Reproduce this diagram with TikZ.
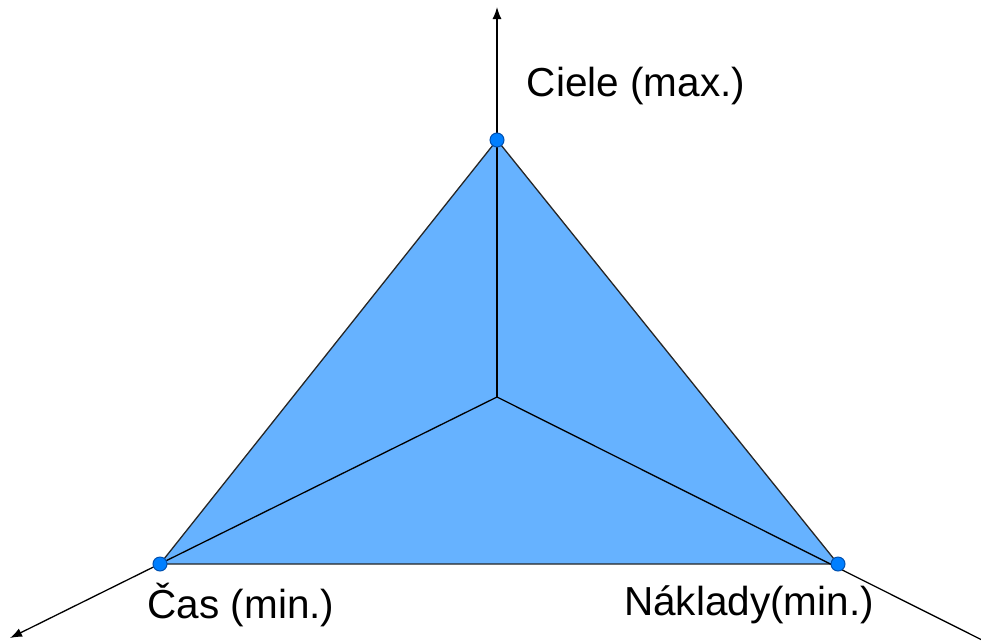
\documentclass[tikz,border=0pt]{standalone}
\usepackage{fontspec}
\setmainfont{Liberation Sans}
\usetikzlibrary{positioning, arrows.meta}
\definecolor{areablue}{HTML}{66B2FF}
\definecolor{dotblue}{HTML}{007FFF}
\definecolor{dotedge}{HTML}{0050B0}

\begin{document}
\begin{tikzpicture}[x=1pt, y=-1pt, line width=1.3pt,
	vertex/.style={circle, draw=dotedge, fill=dotblue, line width=1pt, inner sep=0pt, minimum size=14pt},
	axis/.style={-{Latex[length=12pt, width=9pt]}},
	axislabel/.style={font=\fontsize{40.5}{48}\selectfont, inner sep=0pt}]
		\useasboundingbox (0, 0) rectangle (981, 640);
		\coordinate (center) at (497, 397);
		\coordinate (top_end) at (497, 7);
		\coordinate (left_end) at (10, 638);
		\coordinate (right_end) at (996, 647);
		\fill[areablue] (497, 140) -- (160, 564) -- (838, 564) -- cycle;
		\draw[black!85] (497, 140) -- (160, 564) -- (838, 564) -- cycle;
		\draw[axis] (center) -- (top_end);
		\draw[axis] (center) -- (left_end);
		\draw[axis] (center) -- (right_end);
		\node[vertex] (ciele) at (497, 140) {};
		\node[vertex] (cas) at (160, 564) {};
		\node[vertex] (naklady) at (838, 564) {};
		\node[axislabel] (ciele_label) at (636, 86) {Ciele (max.)};
		\node[axislabel] (cas_label) at (241, 605) {Čas (min.)};
		\node[axislabel] (naklady_label) at (749, 605) {Náklady(min.)};
	\end{tikzpicture}
\end{document}
